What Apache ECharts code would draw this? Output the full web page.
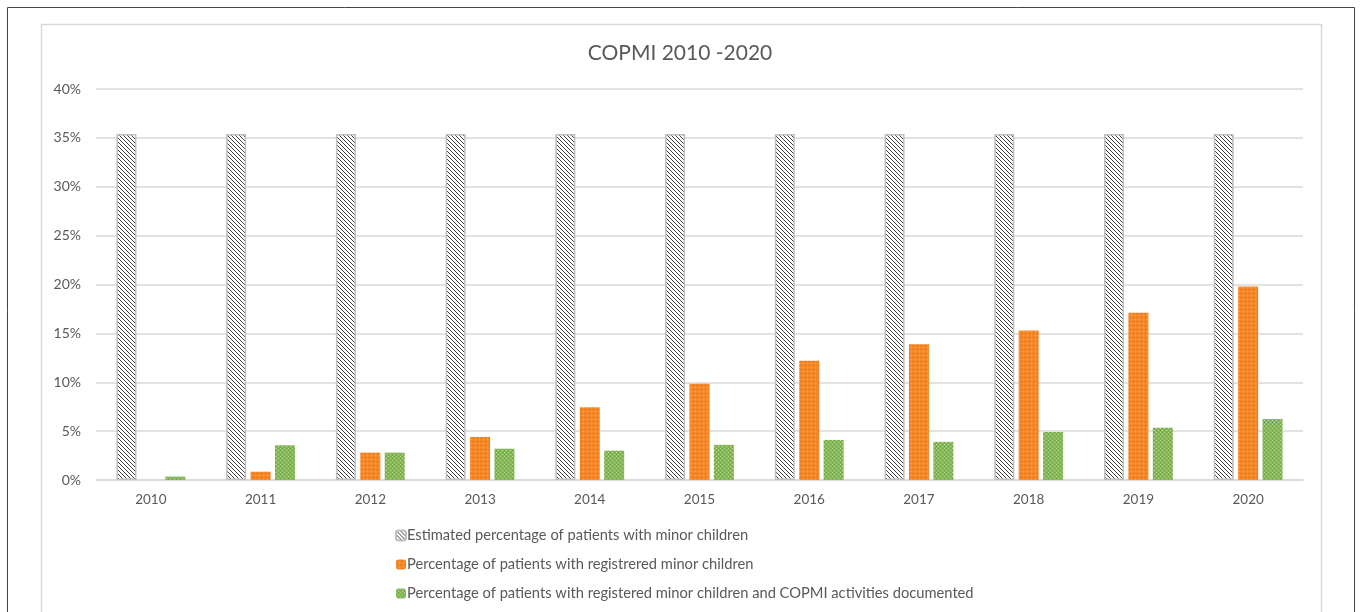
<!DOCTYPE html>
<html>
<head>
<meta charset="utf-8">
<script src="https://cdn.jsdelivr.net/npm/echarts@6/dist/echarts.min.js"></script>
<style>
html,body{margin:0;padding:0;background:#fff;}
#chart{width:1360px;height:612px;}
</style>
</head>
<body>
<div id="chart"></div>
<script>
const categories = ['2010','2011','2012','2013','2014','2015','2016','2017','2018','2019','2020'];
const seriesNames = [
  'Estimated percentage of patients with minor children',
  'Percentage of patients with registrered minor children',
  'Percentage of patients with registered minor children and COPMI activities documented'
];
const estimated = [35.4,35.4,35.4,35.4,35.4,35.4,35.4,35.4,35.4,35.4,35.4];
const registered = [0,0.85,2.8,4.4,7.45,9.85,12.2,13.9,15.3,17.1,19.8];
const copmi = [0.35,3.55,2.8,3.2,3.0,3.6,4.1,3.9,4.9,5.35,6.25];
const yTicks = {min:0, max:40, interval:5};

function hatch(){
  const c=document.createElement('canvas'); c.width=4; c.height=4;
  const g=c.getContext('2d');
  g.fillStyle='#ffffff'; g.fillRect(0,0,4,4);
  g.strokeStyle='#404040'; g.lineWidth=1;
  g.beginPath();
  g.moveTo(-1,-1); g.lineTo(5,5);
  g.moveTo(-1,3); g.lineTo(1,5);
  g.moveTo(3,-1); g.lineTo(5,1);
  g.stroke();
  return {image:c, repeat:'repeat'};
}
function dots(){
  const c=document.createElement('canvas'); c.width=4; c.height=4;
  const g=c.getContext('2d');
  g.fillStyle='#f5892a'; g.fillRect(0,0,4,4);
  g.fillStyle='#d46d16'; g.fillRect(1,1,1,1);
  g.fillStyle='#f9a75e'; g.fillRect(3,3,1,1);
  return {image:c, repeat:'repeat'};
}
function check(){
  const c=document.createElement('canvas'); c.width=4; c.height=4;
  const g=c.getContext('2d');
  g.fillStyle='#85b955'; g.fillRect(0,0,4,4);
  g.fillStyle='#b9d99a'; g.fillRect(0,0,1,1); g.fillRect(2,2,1,1);
  g.fillStyle='#6fa33e'; g.fillRect(2,0,1,1); g.fillRect(0,2,1,1);
  return {image:c, repeat:'repeat'};
}

const font = 'Lato, "Open Sans", sans-serif';
const chart = echarts.init(document.getElementById('chart'), null, {renderer:'canvas'});
chart.setOption({
  animation:false,
  backgroundColor:'#ffffff',
  textStyle:{fontFamily:font},
  title:{
    text:'COPMI 2010 -2020', left:'center', top:38,
    textStyle:{fontFamily:font, fontSize:21, fontWeight:'normal', color:'#595959'}
  },
  graphic:[
    {type:'rect', shape:{x:7.5,y:7.5,width:1347,height:640}, style:{fill:'none', stroke:'#444', lineWidth:1}, silent:true},
    {type:'rect', shape:{x:41.5,y:24.5,width:1280,height:640}, style:{fill:'none', stroke:'#d9d9d9', lineWidth:1.5}, silent:true}
  ],
  legend:{
    orient:'vertical', left:395, top:528, padding:0, itemWidth:10, itemHeight:10, itemGap:14,
    textStyle:{fontFamily:font, fontSize:14.7, color:'#595959', padding:[0,0,0,-4]},
    data:seriesNames
  },
  grid:{left:96, right:57, top:89, bottom:132, containLabel:false},
  xAxis:{
    type:'category', data:categories,
    axisTick:{show:false},
    axisLine:{lineStyle:{color:'#d9d9d9', width:1.5}},
    axisLabel:{fontFamily:font, fontSize:13.5, color:'#595959', margin:13}
  },
  yAxis:{
    type:'value', min:yTicks.min, max:yTicks.max, interval:yTicks.interval,
    axisLine:{show:false}, axisTick:{show:false},
    splitLine:{lineStyle:{color:'#d9d9d9', width:1.5}},
    axisLabel:{fontFamily:font, fontSize:14, color:'#595959', margin:15, formatter:'{value}%'}
  },
  series:[
    {name:seriesNames[0], type:'bar', data:estimated, barWidth:20, barGap:'22%',
     itemStyle:{color:hatch(), borderColor:'#bfbfbf', borderWidth:1.5}},
    {name:seriesNames[1], type:'bar', data:registered, barWidth:20, barGap:'22%',
     itemStyle:{color:dots()}},
    {name:seriesNames[2], type:'bar', data:copmi, barWidth:20, barGap:'22%',
     itemStyle:{color:check()}}
  ]
});
</script>
</body>
</html>
